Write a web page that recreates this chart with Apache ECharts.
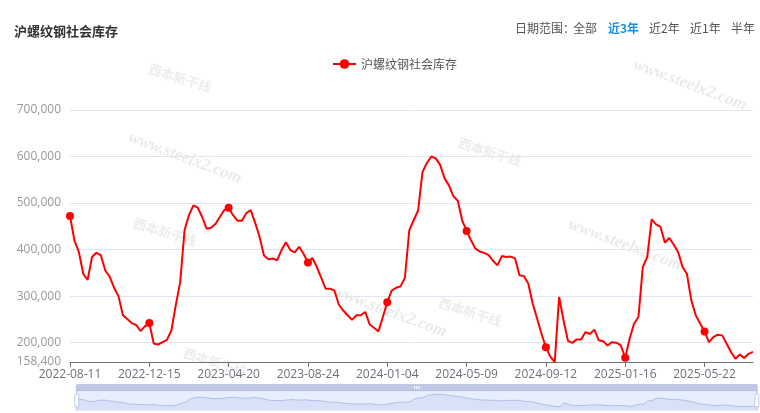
<!DOCTYPE html>
<html>
<head>
<meta charset="utf-8">
<script src="https://cdn.jsdelivr.net/npm/echarts@6/dist/echarts.min.js"></script>
<style>
html,body{margin:0;padding:0;background:#fff;}
#c{width:760px;height:413px;}
</style>
</head>
<body>
<div id="c"></div>
<script>
const titleText = '沪螺纹钢社会库存';
const seriesName = '沪螺纹钢社会库存';
const rangeLabel = '日期范围：';
const rangeOptions = ['全部', '近3年', '近2年', '近1年', '半年'];
const activeRange = '近3年';

const dates = [
'2022-08-11','2022-08-18','2022-08-25','2022-09-01','2022-09-08','2022-09-15','2022-09-22','2022-09-29','2022-10-06','2022-10-13',
'2022-10-20','2022-10-27','2022-11-03','2022-11-10','2022-11-17','2022-11-24','2022-12-01','2022-12-08','2022-12-15','2022-12-22',
'2022-12-29','2023-01-05','2023-01-12','2023-01-19','2023-01-26','2023-02-02','2023-02-09','2023-02-16','2023-02-23','2023-03-02',
'2023-03-09','2023-03-16','2023-03-23','2023-03-30','2023-04-06','2023-04-13','2023-04-20','2023-04-27','2023-05-04','2023-05-11',
'2023-05-18','2023-05-25','2023-06-01','2023-06-08','2023-06-15','2023-06-22','2023-06-29','2023-07-06','2023-07-13','2023-07-20',
'2023-07-27','2023-08-03','2023-08-10','2023-08-17','2023-08-24','2023-08-31','2023-09-07','2023-09-14','2023-09-21','2023-09-28',
'2023-10-12','2023-10-19','2023-10-26','2023-11-02','2023-11-09','2023-11-16','2023-11-23','2023-11-30','2023-12-07','2023-12-14',
'2023-12-21','2023-12-28','2024-01-04','2024-01-11','2024-01-18','2024-01-25','2024-02-01','2024-02-08','2024-02-15','2024-02-22',
'2024-02-29','2024-03-07','2024-03-14','2024-03-21','2024-03-28','2024-04-04','2024-04-11','2024-04-18','2024-04-25','2024-05-02',
'2024-05-09','2024-05-16','2024-05-23','2024-05-30','2024-06-06','2024-06-13','2024-06-20','2024-06-27','2024-07-04','2024-07-11',
'2024-07-18','2024-07-25','2024-08-01','2024-08-08','2024-08-15','2024-08-22','2024-08-29','2024-09-05','2024-09-12','2024-09-19',
'2024-09-26','2024-10-03','2024-10-10','2024-10-17','2024-10-24','2024-10-31','2024-11-07','2024-11-14','2024-11-21','2024-11-28',
'2024-12-05','2024-12-12','2024-12-19','2024-12-26','2025-01-02','2025-01-09','2025-01-16','2025-01-23','2025-01-30','2025-02-06',
'2025-02-13','2025-02-20','2025-02-27','2025-03-06','2025-03-13','2025-03-20','2025-03-27','2025-04-03','2025-04-10','2025-04-17',
'2025-04-24','2025-05-01','2025-05-08','2025-05-15','2025-05-22','2025-05-29','2025-06-05','2025-06-12','2025-06-19','2025-06-26',
'2025-07-03','2025-07-10','2025-07-17','2025-07-24','2025-07-31','2025-08-07'
];

const inventory = [
472000,420000,395000,348000,335000,384000,393000,388000,355000,342000,
318000,300000,259000,251000,242000,238000,225000,235000,242000,198000,
196000,201000,206000,226000,280000,330000,442000,474000,495000,490000,
470000,445000,447000,455000,470000,485000,490000,474000,462000,462000,
478000,485000,458000,428000,388000,379000,381000,377000,399000,416000,
399000,394000,406000,391000,372000,382000,363000,340000,316000,316000,
312000,282000,269000,259000,249000,259000,259000,266000,239000,232000,
224000,255000,287000,312000,318000,321000,339000,442000,463000,484000,
567000,586000,600000,596000,582000,553000,538000,515000,505000,463000,
440000,420000,402000,396000,393000,388000,376000,366000,386000,384000,
385000,381000,345000,343000,327000,284000,252000,219000,190000,170000,
158400,298000,248000,204000,199500,207000,207000,222700,218500,228000,
205000,203000,194000,201000,200000,194000,167600,208500,240700,255000,
363000,384000,465000,454000,449000,415000,425000,411000,395000,363000,
348000,291000,259000,241000,224000,201000,212000,217000,215600,198000,
180000,165500,174700,167000,176000,180000
];

const yMin = 158400;
const yMax = 700000;
const watermarkSite = 'www.steelx2.com';
const watermarkLogo = '西本新干线';

const chart = echarts.init(document.getElementById('c'), null, {renderer: 'canvas'});

const graphics = [];
// watermarks
[[185,158],[390,312],[625,245],[690,85]].forEach(p => {
  graphics.push({type:'text', x:p[0], y:p[1], rotation:-0.36, z:0, silent:true,
    style:{text:watermarkSite, fill:'rgba(160,160,160,0.22)', font:'italic bold 17px serif', align:'center', verticalAlign:'middle'}});
});
[[180,78],[165,232],[490,152],[470,312],[215,362]].forEach(p => {
  graphics.push({type:'text', x:p[0], y:p[1], rotation:-0.3, z:0, silent:true,
    style:{text:watermarkLogo, fill:'rgba(160,160,160,0.2)', font:'bold 13px "Noto Sans CJK SC"', align:'center', verticalAlign:'middle'}});
});
// range selector texts
const rangeX = [573, 608, 649, 690, 731];
graphics.push({type:'text', left:515, top:22, z:10,
  style:{text:rangeLabel, fill:'#555', font:'12px "Noto Sans CJK SC"'}});
rangeOptions.forEach((t,i) => {
  const active = t === activeRange;
  graphics.push({type:'text', left:rangeX[i], top:22, z:10,
    style:{text:t, fill: active ? '#1a8fe3' : '#555', font:(active ? 'bold ' : '') + '12px "Noto Sans CJK SC"'}});
});

chart.setOption({
  animation: false,
  backgroundColor: '#fff',
  title: {
    text: titleText, left: 9, top: 20,
    textStyle: {fontSize: 13, fontWeight: 'bold', color: '#333', fontFamily: '"Noto Sans CJK SC"'}
  },
  legend: {
    data: [seriesName], left: 327, top: 53,
    itemWidth: 23, itemHeight: 12, itemGap: 10,
    textStyle: {fontSize: 12, color: '#555', fontFamily: '"Noto Sans CJK SC"'}
  },
  grid: {left: 70, right: 7, top: 110, bottom: 51, containLabel: false},
  xAxis: {
    type: 'category', data: dates, boundaryGap: false,
    axisLine: {lineStyle: {color: '#6E7079'}},
    axisTick: {interval: 17, length: 5, lineStyle: {color: '#6E7079'}},
    axisLabel: {interval: 17, color: '#6E7079', fontSize: 12, margin: 7, fontFamily: '"Open Sans", sans-serif'}
  },
  yAxis: {
    type: 'value', min: yMin, max: yMax, splitNumber: 5,
    axisLine: {show: false}, axisTick: {show: false},
    axisLabel: {color: '#999', fontSize: 12, margin: 9, fontFamily: '"Open Sans", sans-serif'},
    splitLine: {lineStyle: {color: '#E0E6F1'}}
  },
  dataZoom: [{
    type: 'slider', start: 0, end: 100, left: 73, right: 5, bottom: 9, height: 20,
    showDetail: false
  }],
  graphic: graphics,
  series: [{
    name: seriesName, type: 'line', data: inventory,
    symbol: 'circle', symbolSize: 8, showSymbol: true,
    lineStyle: {color: '#ff0000', width: 2},
    itemStyle: {color: '#ff0000'},
    z: 5
  }]
});
</script>
</body>
</html>
